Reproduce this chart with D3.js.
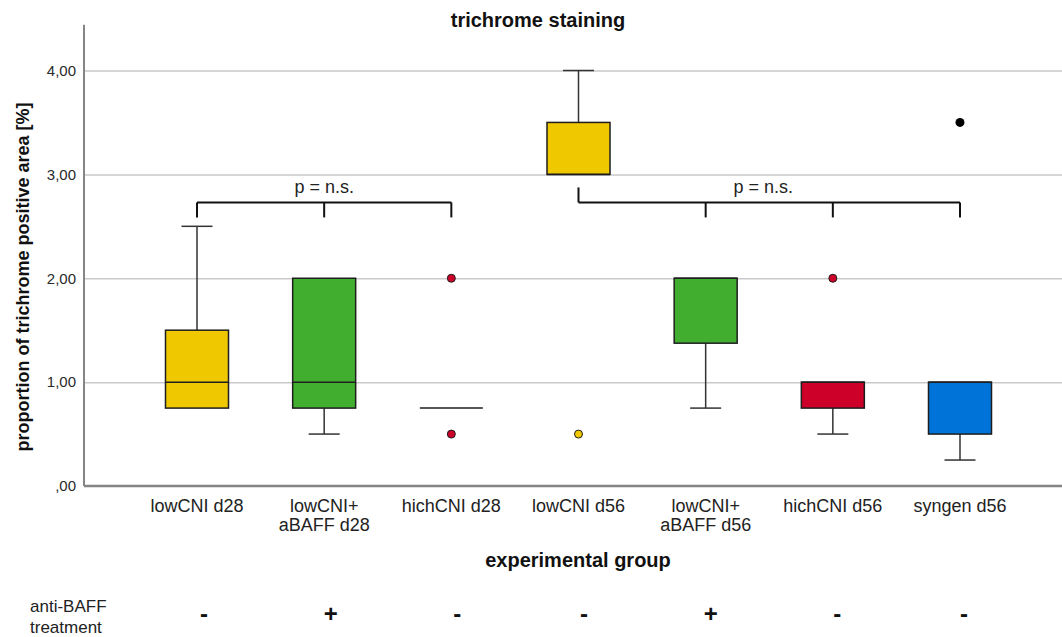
<!DOCTYPE html>
<html>
<head>
  <meta charset="UTF-8">
  <title>trichrome staining</title>
  <script src="https://d3js.org/d3.v7.min.js"></script>
  <style>
    body { margin: 0; background: #fff; }
    text { font-family: "Liberation Sans", Arial, sans-serif; }
  </style>
</head>
<body>
  <svg id="chart" width="1062" height="637"></svg>

  <script>
    // groups along the x axis (label lines)
    const groups = ["lowCNI d28", "lowCNI+ aBAFF d28", "hichCNI d28", "lowCNI d56",
                    "lowCNI+ aBAFF d56", "hichCNI d56", "syngen d56"];
    const groupLines = [["lowCNI d28"], ["lowCNI+", "aBAFF d28"], ["hichCNI d28"], ["lowCNI d56"],
                        ["lowCNI+", "aBAFF d56"], ["hichCNI d56"], ["syngen d56"]];
    const groupColors = ["#efc800", "#42ae2f", "#cc0028", "#efc800", "#42ae2f", "#cc0028", "#0073d9"];

    // box plot statistics
    const whiskerLow  = [0.75, 0.5,  0.75, 3.0, 0.75,  0.5,  0.25];
    const q1          = [0.75, 0.75, 0.75, 3.0, 1.375, 0.75, 0.5];
    const median      = [1.0,  1.0,  0.75, 3.0, 2.0,   1.0,  1.0];
    const q3          = [1.5,  2.0,  0.75, 3.5, 2.0,   1.0,  1.0];
    const whiskerHigh = [2.5,  2.0,  0.75, 4.0, 2.0,   1.0,  1.0];

    // outliers
    const outlierGroup = [2, 2, 3, 5, 6];
    const outlierValue = [2.0, 0.5, 0.5, 2.0, 3.5];
    const outlierExtreme = [false, false, false, false, true];

    // y axis ticks
    const yTicks = [0, 1, 2, 3, 4];
    const yTickLabels = [",00", "1,00", "2,00", "3,00", "4,00"];

    // significance brackets
    const bracketStart = [0, 3];
    const bracketTicks = [[0, 1, 2], [4, 5, 6]];
    const bracketLevel = [2.73, 2.73];
    const bracketText = ["p = n.s.", "p = n.s."];

    // anti-BAFF treatment row
    const treatment = ["-", "+", "-", "-", "+", "-", "-"];

    const svg = d3.select("#chart");
    const width = +svg.attr("width");

    const x = d3.scalePoint().domain(groups).range([197, 960]);
    const xSign = d3.scalePoint().domain(groups).range([204, 964]);
    const y = d3.scaleLinear().domain([0, 4]).range([486, 70.5]);
    const left = 84;
    const boxW = 63;
    const capW = 31;

    // gridlines
    svg.append("g")
       .attr("transform", `translate(${left},0)`)
       .call(d3.axisLeft(y).tickValues(yTicks.slice(1)).tickSize(-(width - left)).tickFormat(""))
       .call(g => g.select(".domain").remove())
       .call(g => g.selectAll("line").attr("stroke", "#c9c9c9").attr("stroke-width", 1.5));

    // y axis labels
    svg.append("g")
       .attr("transform", `translate(${left},0)`)
       .call(d3.axisLeft(y).tickValues(yTicks).tickFormat((d, i) => yTickLabels[i]).tickSize(0).tickPadding(8))
       .call(g => g.select(".domain").remove())
       .call(g => g.selectAll("text")
                   .attr("font-size", 15)
                   .attr("font-family", "Liberation Sans, Arial, sans-serif")
                   .attr("fill", "#2a2a2a"));

    // axis lines
    svg.append("line")
       .attr("x1", left).attr("x2", left)
       .attr("y1", y(0)).attr("y2", y(4.44))
       .attr("stroke", "#858585").attr("stroke-width", 2);
    svg.append("line")
       .attr("x1", left).attr("x2", width)
       .attr("y1", y(0)).attr("y2", y(0))
       .attr("stroke", "#858585").attr("stroke-width", 2.5);

    const idx = d3.range(groups.length);

    // whiskers
    const wg = svg.append("g").attr("stroke", "#333").attr("stroke-width", 1.5);
    idx.forEach(i => {
      const cx = x(groups[i]);
      if (whiskerHigh[i] > q3[i]) {
        wg.append("line").attr("x1", cx).attr("x2", cx).attr("y1", y(q3[i])).attr("y2", y(whiskerHigh[i]));
        wg.append("line").attr("x1", cx - capW / 2).attr("x2", cx + capW / 2)
          .attr("y1", y(whiskerHigh[i])).attr("y2", y(whiskerHigh[i]));
      }
      if (whiskerLow[i] < q1[i]) {
        wg.append("line").attr("x1", cx).attr("x2", cx).attr("y1", y(q1[i])).attr("y2", y(whiskerLow[i]));
        wg.append("line").attr("x1", cx - capW / 2).attr("x2", cx + capW / 2)
          .attr("y1", y(whiskerLow[i])).attr("y2", y(whiskerLow[i]));
      }
    });

    // boxes
    svg.append("g").selectAll("rect")
       .data(idx.filter(i => q3[i] > q1[i]))
       .join("rect")
       .attr("x", i => x(groups[i]) - boxW / 2)
       .attr("y", i => y(q3[i]))
       .attr("width", boxW)
       .attr("height", i => y(q1[i]) - y(q3[i]))
       .attr("fill", i => groupColors[i])
       .attr("stroke", "#1e1e1e")
       .attr("stroke-width", 1.5);

    // medians
    svg.append("g").selectAll("line")
       .data(idx)
       .join("line")
       .attr("x1", i => x(groups[i]) - boxW / 2)
       .attr("x2", i => x(groups[i]) + boxW / 2)
       .attr("y1", i => y(median[i]))
       .attr("y2", i => y(median[i]))
       .attr("stroke", "#1e1e1e")
       .attr("stroke-width", 1.5);

    // outliers
    svg.append("g").selectAll("circle")
       .data(d3.range(outlierGroup.length))
       .join("circle")
       .attr("cx", k => x(groups[outlierGroup[k]]))
       .attr("cy", k => y(outlierValue[k]))
       .attr("r", k => outlierExtreme[k] ? 4.5 : 4)
       .attr("fill", k => outlierExtreme[k] ? "#000" : groupColors[outlierGroup[k]])
       .attr("stroke", "#1e1e1e")
       .attr("stroke-width", k => outlierExtreme[k] ? 0 : 1);

    // significance brackets
    const bg = svg.append("g").attr("stroke", "#111").attr("stroke-width", 2).attr("fill", "none");
    bracketStart.forEach((s, b) => {
      const ticks = bracketTicks[b];
      const yb = y(bracketLevel[b]);
      const x0 = x(groups[s]);
      const x1 = x(groups[ticks[ticks.length - 1]]);
      bg.append("line").attr("x1", x0).attr("x2", x1).attr("y1", yb).attr("y2", yb);
      if (ticks[0] !== s) {
        // start tick points up toward its box
        bg.append("line").attr("x1", x0).attr("x2", x0).attr("y1", yb).attr("y2", yb - 15);
      }
      ticks.forEach(t => {
        bg.append("line").attr("x1", x(groups[t])).attr("x2", x(groups[t]))
          .attr("y1", yb).attr("y2", yb + 15);
      });
      svg.append("text")
         .attr("x", b === 0 ? x(groups[1]) : (x0 + x1) / 2 - 6)
         .attr("y", yb - 9)
         .attr("text-anchor", "middle")
         .attr("font-size", 18)
         .attr("fill", "#222")
         .text(bracketText[b]);
    });

    // x category labels
    svg.append("g").selectAll("text")
       .data(idx)
       .join("text")
       .attr("text-anchor", "middle")
       .attr("font-size", 18)
       .attr("fill", "#222")
       .each(function(i) {
         d3.select(this).selectAll("tspan")
           .data(groupLines[i])
           .join("tspan")
           .attr("x", x(groups[i]))
           .attr("y", (d, j) => 512 + j * 19)
           .text(d => d);
       });

    // titles
    svg.append("text")
       .attr("x", 538).attr("y", 27)
       .attr("text-anchor", "middle")
       .attr("font-size", 20).attr("font-weight", "bold")
       .attr("fill", "#111")
       .text("trichrome staining");

    svg.append("text")
       .attr("x", 578).attr("y", 567)
       .attr("text-anchor", "middle")
       .attr("font-size", 20).attr("font-weight", "bold")
       .attr("fill", "#111")
       .text("experimental group");

    svg.append("text")
       .attr("transform", "translate(29,277) rotate(-90)")
       .attr("text-anchor", "middle")
       .attr("font-size", 18).attr("font-weight", "bold")
       .attr("fill", "#111")
       .text("proportion of trichrome positive area [%]");

    // treatment row
    svg.append("text")
       .attr("x", 30).attr("y", 612)
       .attr("font-size", 17).attr("fill", "#222")
       .text("anti-BAFF");
    svg.append("text")
       .attr("x", 30).attr("y", 633)
       .attr("font-size", 17).attr("fill", "#222")
       .text("treatment");

    svg.append("g").selectAll("text")
       .data(idx)
       .join("text")
       .attr("x", i => xSign(groups[i]))
       .attr("y", 622)
       .attr("text-anchor", "middle")
       .attr("font-size", 24).attr("font-weight", "bold")
       .attr("fill", "#111")
       .text(i => treatment[i]);
  </script>
</body>
</html>
